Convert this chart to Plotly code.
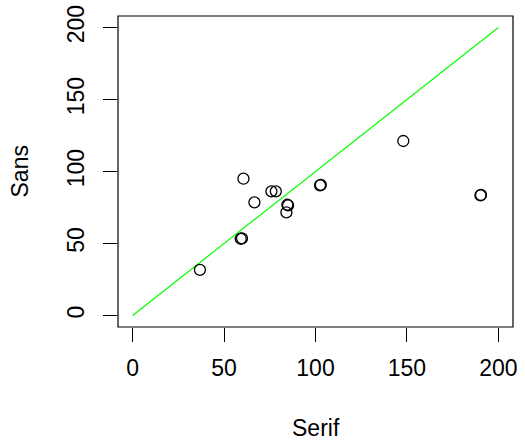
import plotly.graph_objects as go

# Data
serif = [36.8, 59.1, 59.8, 60.6, 66.6, 75.9, 78.3, 85.0, 84.1, 84.6, 102.5, 102.9, 148.0, 190.2, 190.5]
sans = [31.7, 53.3, 53.6, 95.0, 78.6, 86.2, 86.2, 76.5, 71.6, 76.9, 90.4, 90.7, 121.2, 83.4, 83.7]
ref_line_x = [0, 200]
ref_line_y = [0, 200]
tick_vals = [0, 50, 100, 150, 200]
tick_text = ["0", "50", "100", "150", "200"]

FONT = "Liberation Sans, Arial, Helvetica, sans-serif"
FS = 23

fig = go.Figure()
fig.add_trace(go.Scatter(
    x=ref_line_x, y=ref_line_y, mode="lines",
    line=dict(color="#00ff00", width=1.2), hoverinfo="skip", showlegend=False,
))
fig.add_trace(go.Scatter(
    x=serif, y=sans, mode="markers",
    marker=dict(symbol="circle-open", size=11, color="black", line=dict(width=1.3, color="black")),
    showlegend=False,
))

axis_common = dict(
    tickvals=tick_vals, ticktext=tick_text,
    showgrid=False, zeroline=False, showline=False,
    ticks="outside", ticklen=14, tickwidth=1, tickcolor="black",
    tickfont=dict(family=FONT, size=FS, color="black"),
    range=[-8, 208], fixedrange=True, automargin=False,
    ticklabeloverflow="allow",
)

fig.update_layout(
    width=525, height=441,
    margin=dict(l=118, r=12, t=16, b=114, autoexpand=False),
    paper_bgcolor="white", plot_bgcolor="white",
    xaxis=dict(**axis_common, ticklabelstandoff=6),
    yaxis=dict(**axis_common, tickangle=-90, ticklabelstandoff=10),
    shapes=[dict(type="rect", xref="paper", yref="paper", x0=0, y0=0, x1=1, y1=1,
                 line=dict(color="black", width=1.2), fillcolor="rgba(0,0,0,0)")],
    annotations=[
        dict(text="Sans", xref="paper", yref="paper", x=0, y=0.5, xanchor="center", yanchor="middle",
             xshift=-99, textangle=-90, showarrow=False, font=dict(family=FONT, size=FS, color="black")),
        dict(text="Serif", xref="paper", yref="paper", x=0.5, y=0, xanchor="center", yanchor="middle",
             yshift=-101, showarrow=False, font=dict(family=FONT, size=FS, color="black")),
    ],
)

fig.write_html(
    "out.html",
    config={"displayModeBar": False, "staticPlot": True},
    post_script="document.body.style.margin='0';document.body.style.overflow='hidden';",
)
